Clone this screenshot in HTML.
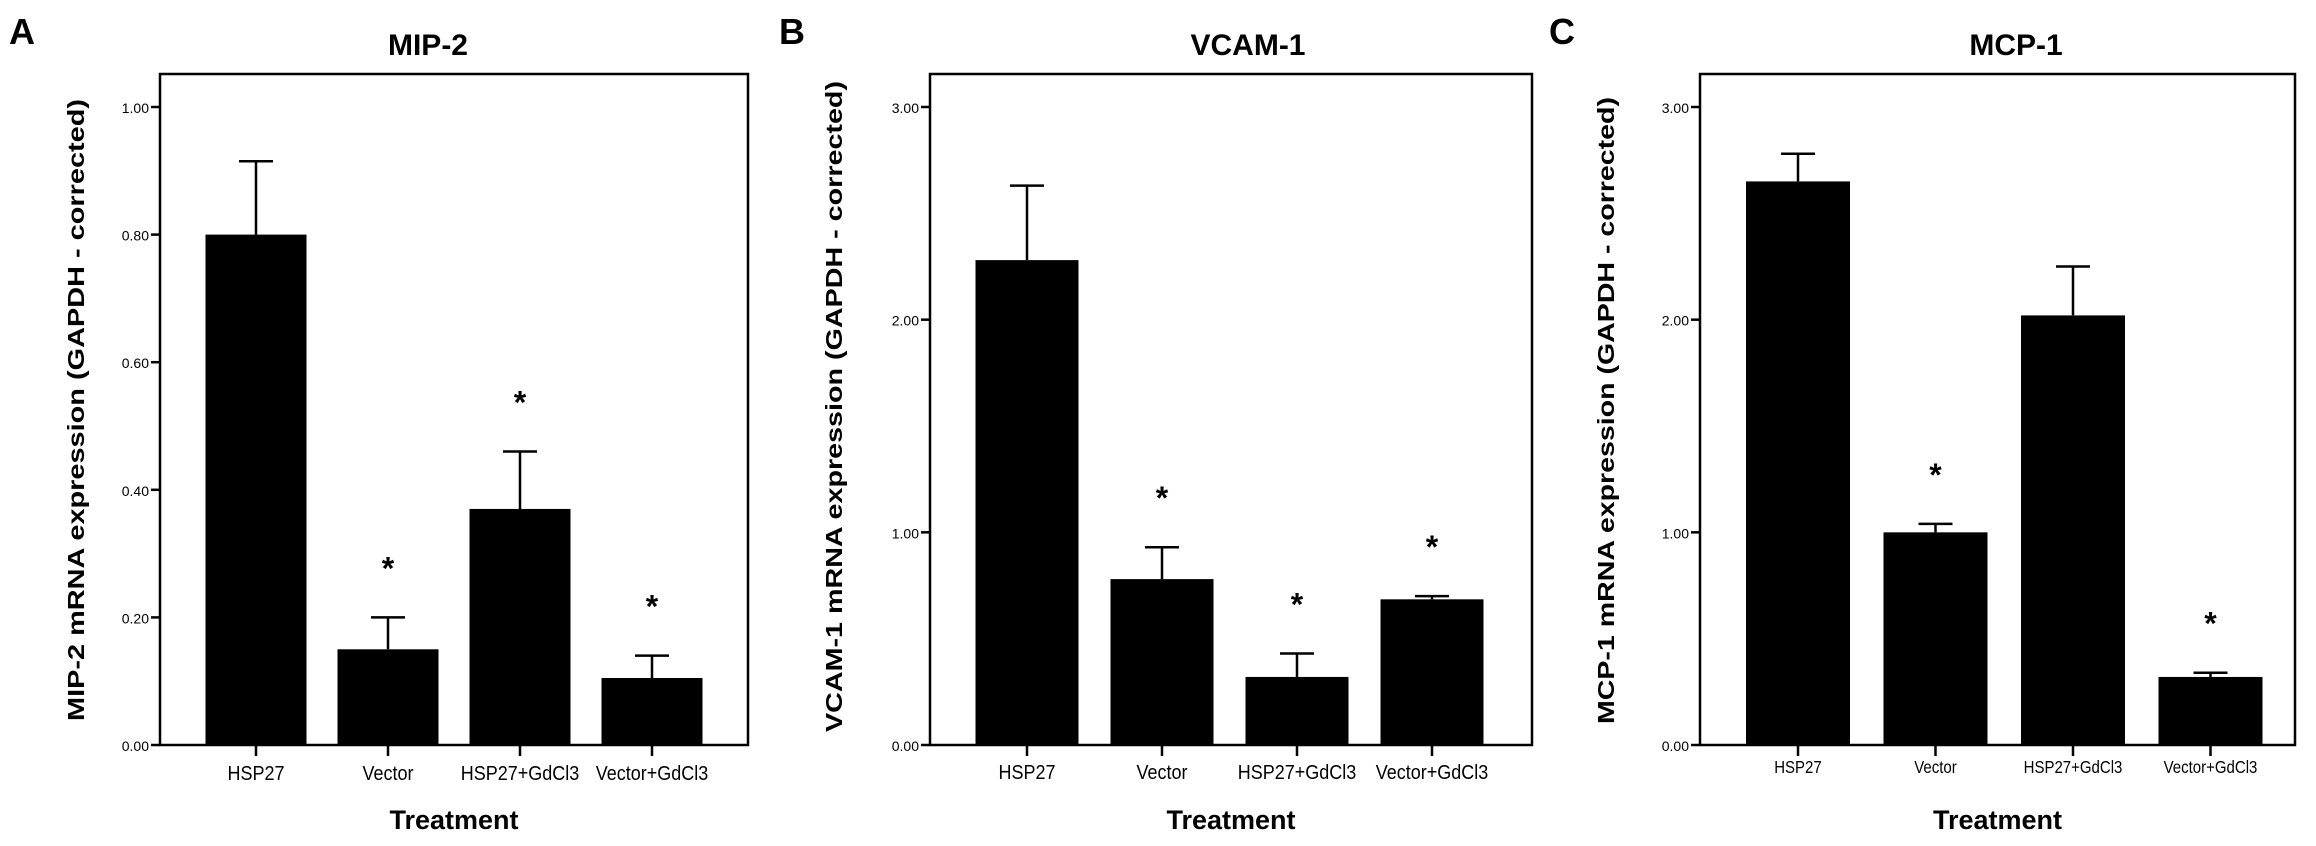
<!DOCTYPE html>
<html><head><meta charset="utf-8"><style>
html,body{margin:0;padding:0;background:#fff;}
svg{display:block;font-family:"Liberation Sans",Arial,sans-serif;}
</style></head><body>
<svg id="fig" width="2316" height="846" viewBox="0 0 2316 846" xmlns="http://www.w3.org/2000/svg"></svg>
<script>
const categories = ["HSP27","Vector","HSP27+GdCl3","Vector+GdCl3"];
const mip2Values = [0.80, 0.15, 0.37, 0.105];
const mip2Errors = [0.915, 0.20, 0.46, 0.14];
const mip2Stars = [false, true, true, true];
const mip2Ticks = [0, 0.2, 0.4, 0.6, 0.8, 1.0];
const vcamValues = [2.28, 0.78, 0.32, 0.685];
const vcamErrors = [2.63, 0.93, 0.43, 0.70];
const vcamStars = [false, true, true, true];
const vcamTicks = [0, 1, 2, 3];
const mcpValues = [2.65, 1.00, 2.02, 0.32];
const mcpErrors = [2.78, 1.04, 2.25, 0.34];
const mcpStars = [false, true, false, true];
const mcpTicks = [0, 1, 2, 3];

const NS="http://www.w3.org/2000/svg";
const svg=document.getElementById('fig');
function mk(tag,attrs,parent){const e=document.createElementNS(NS,tag);for(const k in attrs)e.setAttribute(k,attrs[k]);(parent||svg).appendChild(e);return e;}

function panel(cfg){
  const g=mk('g',{});
  
  
  const x0=cfg.left, x1=cfg.right, top=74, y0=745;
  const yMax=cfg.ticks[cfg.ticks.length-1];
  const yScale=v=>y0-(v/yMax)*(y0-107);
  const xC=i=>cfg.firstC+i*cfg.step;
  const L=mk('text',{x:cfg.letterX,y:44,'font-size':36,'font-weight':'bold'},g);L.textContent=cfg.letter;
  
  
  const T=mk('text',{x:cfg.titleX,y:55,'font-size':30,'font-weight':'bold','text-anchor':'middle'},g);T.textContent=cfg.title;
  
  
  const F=mk('rect',{x:x0,y:top,width:x1-x0,height:y0-top,fill:'none',stroke:'#000','stroke-width':2.5},g);
  
  
  cfg.ticks.forEach(t=>{
    const y=yScale(t);
    const tk=mk('line',{x1:x0-9,x2:x0,y1:y,y2:y,stroke:'#000','stroke-width':2.5},g);
    
    
    const tl=mk('text',{x:x0-11,y:y+6,'font-size':cfg.tickFont,'text-anchor':'end'},g);
    tl.textContent=t.toFixed(2);
    
    
  });
  cfg.values.forEach((v,i)=>{
    const c=xC(i), y=yScale(v);
    const b=mk('rect',{x:c-cfg.bw/2,y:y,width:cfg.bw,height:y0-y,fill:'#000'},g);
    
    
    const ey=yScale(cfg.errors[i]);
    const el=mk('path',{d:`M${c},${y} V${ey} M${c-17},${ey} H${c+17}`,stroke:'#000','stroke-width':2.5,fill:'none'},g);
    
    
    if(cfg.stars[i]){
      const s=mk('text',{x:c,y:ey-cfg.starGap+17,'font-size':32,'font-weight':'bold','text-anchor':'middle'},g);
      s.textContent='*';
      
      
    }
    const xt=mk('line',{x1:c,x2:c,y1:y0,y2:y0+11,stroke:'#000','stroke-width':2.5},g);
    
    
    const xl=mk('text',{x:c,y:cfg.catY,'font-size':cfg.catFont,'text-anchor':'middle',transform:`translate(${c},${cfg.catY}) scale(1,1.15) translate(${-c},${-cfg.catY})`},g);
    xl.textContent=categories[i];
    
    
  });
  const xt=mk('text',{x:(x0+x1)/2,y:829,'font-size':27,'font-weight':'bold','text-anchor':'middle'},g);
  xt.textContent='Treatment';
  
  
  const yc=(cfg.yt0+cfg.yt1)/2;
  const yt=mk('text',{x:0,y:0,'font-size':23,'font-weight':'bold','text-anchor':'middle',textLength:cfg.yt1-cfg.yt0,lengthAdjust:'spacingAndGlyphs',transform:`translate(${cfg.ytX},${yc}) rotate(-90)`},g);
  yt.textContent=cfg.ytitle;
  
  
}

panel({name:'mip2',letter:'A',letterX:9,title:'MIP-2',titleX:428,left:160,right:748,firstC:256,step:132,bw:101,
  values:mip2Values,errors:mip2Errors,stars:mip2Stars,ticks:mip2Ticks,starGap:55,tickFont:14,catFont:18,catY:780,
  ytitle:'MIP-2 mRNA expression (GAPDH - corrected)',ytX:84,yt0:99,yt1:721});
panel({name:'vcam1',letter:'B',letterX:779,title:'VCAM-1',titleX:1248,left:930,right:1532,firstC:1027,step:135,bw:103,
  values:vcamValues,errors:vcamErrors,stars:vcamStars,ticks:vcamTicks,starGap:55,tickFont:14,catFont:18,catY:779,
  ytitle:'VCAM-1 mRNA expression (GAPDH - corrected)',ytX:842,yt0:81,yt1:732});
panel({name:'mcp1',letter:'C',letterX:1549,title:'MCP-1',titleX:2016,left:1700,right:2295,firstC:1798,step:137.5,bw:104,
  values:mcpValues,errors:mcpErrors,stars:mcpStars,ticks:mcpTicks,starGap:55,tickFont:14,catFont:15,catY:773,
  ytitle:'MCP-1 mRNA expression (GAPDH - corrected)',ytX:1614,yt0:97,yt1:724});
</script>
</body></html>
